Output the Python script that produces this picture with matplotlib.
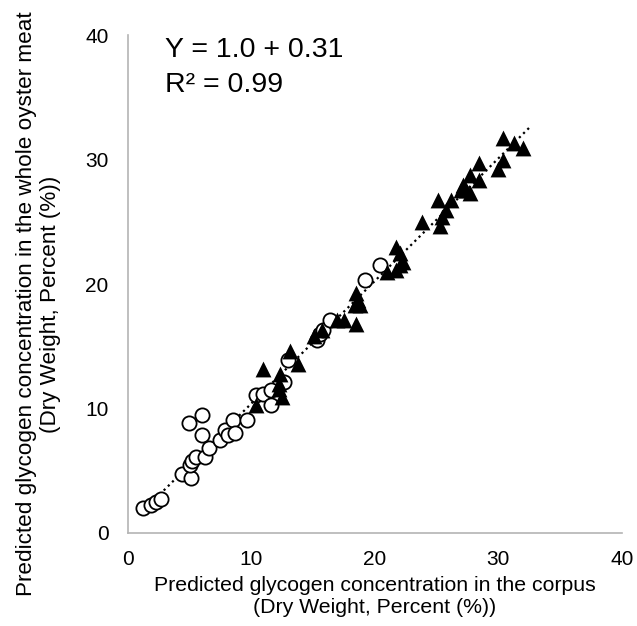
import numpy as np
import matplotlib.pyplot as plt

# ------------------------------------------------------------
#  Datos (corpus vs carne entera, % peso seco)
# ------------------------------------------------------------

circ_x = [1.2, 1.9, 2.3, 2.7, 4.4, 5.1, 4.9, 6.0, 6.0, 5.0, 5.2, 5.5,
          6.2, 6.6, 7.45, 7.85, 8.1, 8.5, 8.7, 9.6, 10.4, 10.95, 11.6,
          11.6, 12.6, 13.0, 15.3, 15.55, 15.8, 16.35, 19.2, 20.4]
circ_y = [2.0, 2.25, 2.45, 2.7, 4.7, 4.4, 8.8, 9.5, 7.9, 5.5, 5.8, 6.1,
          6.1, 6.8, 7.5, 8.3, 7.9, 9.1, 8.0, 9.1, 11.1, 11.2, 10.3,
          11.5, 12.15, 13.9, 15.5, 16.0, 16.3, 17.1, 20.3, 21.5]

tri_x = [10.4, 10.95, 12.2, 12.3, 12.45, 12.2, 13.1, 13.8, 15.1, 15.7,
         16.9, 17.5, 18.5, 18.4, 18.8, 18.6, 18.5, 20.95, 21.75, 22.0,
         22.3, 22.0, 21.75, 23.8, 25.25, 25.4, 25.8, 25.1, 26.2, 27.0,
         27.4, 27.15, 27.7, 27.7, 28.4, 28.4, 30.0, 30.4, 30.4, 31.3, 32.0]
tri_y = [10.3, 13.2, 12.0, 12.8, 10.95, 11.6, 14.6, 13.6, 15.8, 16.3,
         17.1, 17.1, 16.8, 18.3, 18.3, 18.7, 19.3, 21.0, 21.1, 21.5,
         21.8, 22.5, 23.0, 25.0, 24.7, 25.4, 25.95, 26.75, 26.75, 27.55,
         27.55, 27.95, 27.3, 28.75, 28.35, 29.7, 29.2, 30.0, 31.7, 31.3, 30.9]

ticks = [0, 10, 20, 30, 40]

# ------------------------------------------------------------
#  Estilo
# ------------------------------------------------------------

plt.rcParams.update({
    "font.family": "Liberation Sans",
    "font.size": 15,
})

fig = plt.figure(figsize=(6.37, 6.26), dpi=100)
ax = fig.add_axes([0.201, 0.1486, 0.775, 0.7954])

# linea de tendencia (ajuste lineal sobre todos los puntos)
all_x = np.array(circ_x + tri_x)
all_y = np.array(circ_y + tri_y)
m, b = np.polyfit(all_x, all_y, 1)
xl = np.array([all_x.min(), all_x.max() + 0.5])
ax.plot(xl, m * xl + b, color="black", linestyle=":", linewidth=1.6, zorder=1)

ax.scatter(circ_x, circ_y, s=105, facecolors="white", edgecolors="black",
           linewidths=1.3, zorder=2)
ax.scatter(tri_x, tri_y, s=130, marker="^", color="black", linewidths=0, zorder=3)

ax.text(3.0, 38.8, "Y = 1.0 + 0.31", fontsize=20.5, va="center")
ax.text(3.0, 36.0, "R² = 0.99", fontsize=20.5, va="center")

ax.set_xlim(0, 40)
ax.set_ylim(0, 40)
ax.set_xticks(ticks)
ax.set_yticks(ticks)
ax.tick_params(length=0, labelsize=15)
ax.tick_params(axis="x", pad=12)
ax.tick_params(axis="y", pad=14)

for s in ["top", "right"]:
    ax.spines[s].set_visible(False)
for s in ["left", "bottom"]:
    ax.spines[s].set_color("#b4b4b4")
    ax.spines[s].set_linewidth(1.2)

ax.set_xlabel("Predicted glycogen concentration in the corpus\n"
              "(Dry Weight, Percent (%))", fontsize=15.3, linespacing=1.2,
              labelpad=5)
ax.set_ylabel("Predicted glycogen concentration in the whole oyster meat\n"
              "(Dry Weight, Percent (%))", fontsize=16.2, linespacing=1.15)
ax.yaxis.set_label_coords(-0.136, 0.46)

fig.savefig("out.png", dpi=100)
